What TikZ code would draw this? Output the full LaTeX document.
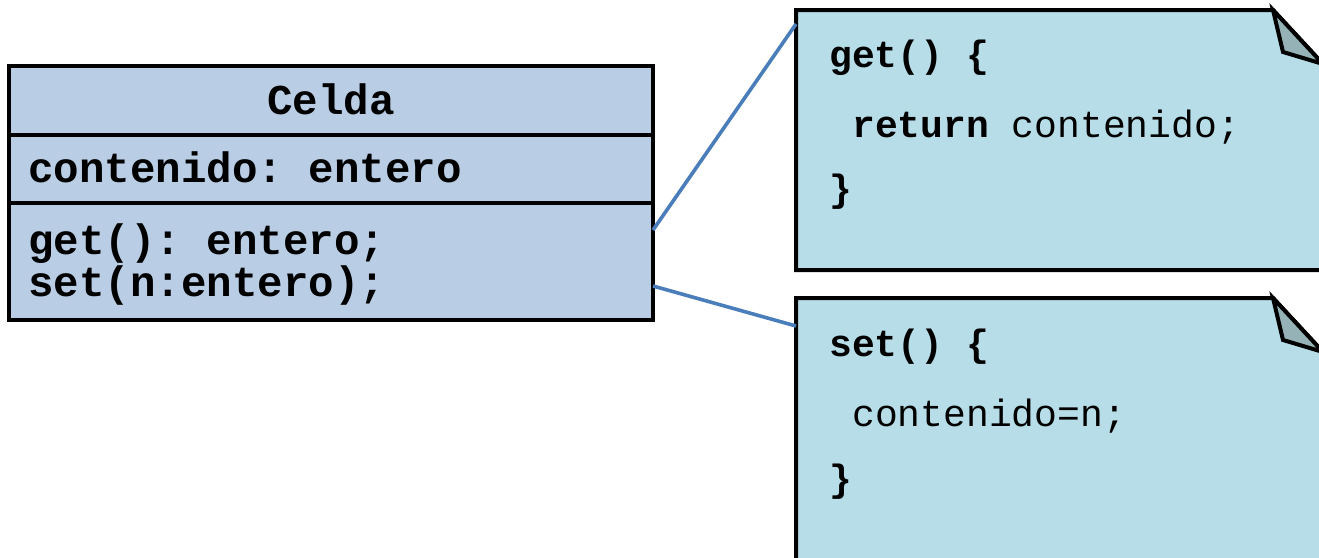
\documentclass[tikz,border=0pt]{standalone}
\usepackage{fontspec}
\setmonofont{Liberation Mono}
\definecolor{classfill}{HTML}{B9CDE5}
\definecolor{notefill}{HTML}{B7DEE8}
\definecolor{foldfill}{HTML}{95B3B7}
\definecolor{linkblue}{HTML}{4A7EBB}
\tikzset{
  row/.style={draw=black, line width=4pt, fill=classfill, minimum width=644pt,
    inner sep=0pt, outer sep=0pt, anchor=north west},
  classtext/.style={font=\ttfamily\bfseries\fontsize{42.5}{42.5}\selectfont, inner sep=0pt},
  notebody/.style={draw=black, line width=4pt, fill=notefill, line join=miter},
  notefold/.style={draw=black, line width=4pt, fill=foldfill, line join=miter},
  codetext/.style={font=\ttfamily\fontsize{38}{38}\selectfont, inner sep=0pt, anchor=base west},
  link/.style={draw=linkblue, line width=3.6pt},
}
\begin{document}
\begin{tikzpicture}[x=1pt,y=-1pt]
\useasboundingbox (0,0) rectangle (1319,557);

% class Celda
\node[row, minimum height=69pt] (title) at (9,66) {};
\node[row, minimum height=68pt] (attrs) at (9,135) {};
\node[row, minimum height=117pt] (ops) at (9,203) {};
\node[classtext, anchor=base] (name) at (331,114) {Celda};
\node[classtext, anchor=base west] (attr) at (28,182) {contenido: entero};
\node[classtext, anchor=base west] (opget) at (28,254) {get(): entero;};
\node[classtext, anchor=base west] (opset) at (28,296) {set(n:entero);};

% note for get()
\draw[notebody] (796,10) -- (1273,10) -- (1323,64) -- (1323,270) -- (796,270) -- cycle;
\draw[notefold] (1273,10) -- (1283,52) -- (1323,64) -- cycle;
\node[codetext] (g1) at (829,67) {\textbf{get() \{}};
\node[codetext] (g2) at (852,137) {\textbf{return} contenido;};
\node[codetext] (g3) at (829,201) {\textbf{\}}};

% note for set()
\draw[notebody] (796,298) -- (1273,298) -- (1323,352) -- (1323,560) -- (796,560) -- cycle;
\draw[notefold] (1273,298) -- (1283,340) -- (1323,352) -- cycle;
\node[codetext] (s1) at (829,356) {\textbf{set() \{}};
\node[codetext] (s2) at (852,426) {contenido=n;};
\node[codetext] (s3) at (829,491) {\textbf{\}}};

% anchors of the connectors
\coordinate (getfrom) at (653,230);
\coordinate (getto) at (796,24);
\coordinate (setfrom) at (653,286);
\coordinate (setto) at (796,326);
\draw[link] (getfrom) -- (getto);
\draw[link] (setfrom) -- (setto);
\end{tikzpicture}
\end{document}
